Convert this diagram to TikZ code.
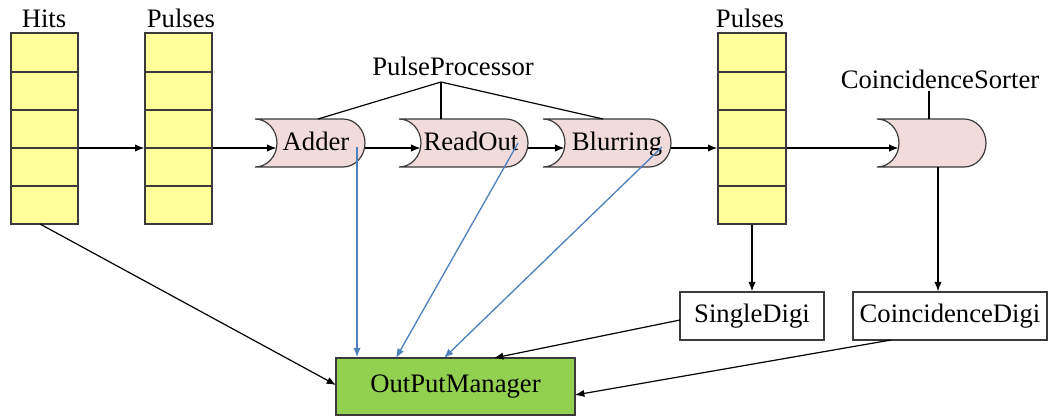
\documentclass[tikz,border=0pt]{standalone}
\usepackage{fontspec}
\setmainfont{Liberation Serif}
\newfontfamily\labelfont{Liberation Serif}
\usetikzlibrary{arrows.meta}
\definecolor{stackfill}{HTML}{FFFF99}
\definecolor{procfill}{HTML}{F2DCDB}
\definecolor{outfill}{HTML}{92D050}
\definecolor{linkblue}{HTML}{4F81BD}
\definecolor{edgegray}{HTML}{3A3A3A}

% Horizontal "pipe" processor body between y=119 and y=167:
% #1 name, #2 left x, #3 right x (units are pixels of the drawing grid)
\newcommand\pipeshape[3]{%
  \filldraw[pipe] (#2,119) -- ({#3-22},119)
    .. controls ({#3-9.85},119) and (#3,129.75) .. (#3,143)
    .. controls (#3,156.25) and ({#3-9.85},167) .. ({#3-22},167)
    -- (#2,167)
    .. controls ({#2+12.15},167) and ({#2+22},156.25) .. ({#2+22},143)
    .. controls ({#2+22},129.75) and ({#2+12.15},119) .. (#2,119) -- cycle;
  \coordinate (#1-in) at ({#2+21.5},148);
  \coordinate (#1-out) at ({#3-0.5},148);
}

\begin{document}
\begin{tikzpicture}[x=0.75pt,y=-0.75pt,
  font=\labelfont\fontsize{20}{24}\selectfont,
  lbl/.style={anchor=base,inner sep=0pt},
  stackbox/.style={draw=edgegray,line width=1pt,fill=stackfill,inner sep=0pt,
    minimum height=143.25pt},
  digibox/.style={draw=edgegray,line width=1.1pt,fill=white,inner sep=0pt,
    minimum height=36pt},
  pipe/.style={draw=edgegray,line width=0.9pt,fill=procfill},
  arr/.style={line width=0.9pt,-{Latex[length=7pt,width=5.5pt]}},
  bluearr/.style={draw=linkblue,line width=1pt,
    -{Latex[length=7pt,width=5.5pt]}},
  link/.style={line width=0.9pt}]

\useasboundingbox (0,0) rectangle (1050,419);

% data stacks
\node[stackbox,minimum width=50.25pt] (hits) at (44.5,128.5) {};
\node[stackbox,minimum width=50.25pt] (pulsesA) at (178.5,128.5) {};
\node[stackbox,minimum width=51pt] (pulsesB) at (752,128.5) {};
\foreach \s in {hits,pulsesA,pulsesB}
  \foreach \y in {72,110,148,186}
    \draw[edgegray,line width=1pt] (\s.west |- 0,\y) -- (\s.east |- 0,\y);

\node[lbl] (hitslbl) at (44,27) {Hits};
\node[lbl] (pulsesAlbl) at (181,27) {Pulses};
\node[lbl] (pulsesBlbl) at (750,27) {Pulses};

% processors
\pipeshape{adder}{255}{365}
\pipeshape{readout}{399}{528}
\pipeshape{blurring}{543}{671}
\pipeshape{sorter}{877}{986}
\node[lbl] (adderlbl) at (316,150) {Adder};
\node[lbl] (readoutlbl) at (471,150) {ReadOut};
\node[lbl] (blurringlbl) at (617,150) {Blurring};

\node[lbl] (pplbl) at (453,75) {PulseProcessor};
\node[lbl] (cslbl) at (940,88) {CoincidenceSorter};

% digi boxes and output manager
\node[digibox,minimum width=108pt] (single) at (752,316) {SingleDigi};
\node[digibox,minimum width=145.5pt] (coinc) at (950,316) {CoincidenceDigi};
\node[draw=edgegray,line width=1.1pt,fill=outfill,inner sep=0pt,
  minimum width=179.25pt,minimum height=42.75pt] (opm) at (455.5,386.5) {OutPutManager};

% grouping lines
\coordinate (ppapex) at (441,82);
\coordinate (adder-top) at (318,119);
\coordinate (readout-top) at (441,119);
\coordinate (blurring-top) at (603,119);
\draw[link] (adder-top) -- (ppapex) -- (blurring-top);
\draw[link] (ppapex) -- (readout-top);
\coordinate (csfoot) at (929,91);
\coordinate (sorter-top) at (929,119);
\draw[link] (csfoot) -- (sorter-top);

% main data flow
\draw[arr] (hits.east |- 0,148) -- (pulsesA.west |- 0,148);
\draw[arr] (pulsesA.east |- 0,148) -- (adder-in);
\draw[arr] (adder-out) -- (readout-in);
\draw[arr] (readout-out) -- (blurring-in);
\draw[arr] (blurring-out) -- (pulsesB.west |- 0,148);
\draw[arr] (pulsesB.east |- 0,148) -- (sorter-in);

\draw[arr] (pulsesB.south) -- (single.north);
\coordinate (sorter-bottom) at (938,167);
\draw[arr] (sorter-bottom) -- (sorter-bottom |- coinc.north);

% outputs
\coordinate (hits-foot) at (40,224);
\coordinate (opm-left) at (336,385);
\draw[arr] (hits-foot) -- (opm-left);

\coordinate (adder-tap) at (357,147);
\coordinate (readout-tap) at (518,143);
\coordinate (blurring-tap) at (662,147);
\coordinate (opm-in2) at (396,358);
\coordinate (opm-in3) at (444,358);
\draw[bluearr] (adder-tap) -- (adder-tap |- opm.north);
\draw[bluearr] (readout-tap) -- (opm-in2);
\draw[bluearr] (blurring-tap) -- (opm-in3);

\coordinate (single-out) at (680,320);
\coordinate (opm-in4) at (494,358);
\draw[arr] (single-out) -- (opm-in4);
\coordinate (coinc-out) at (891,340);
\coordinate (opm-right) at (575,395);
\draw[arr] (coinc-out) -- (opm-right);
\end{tikzpicture}
\end{document}
